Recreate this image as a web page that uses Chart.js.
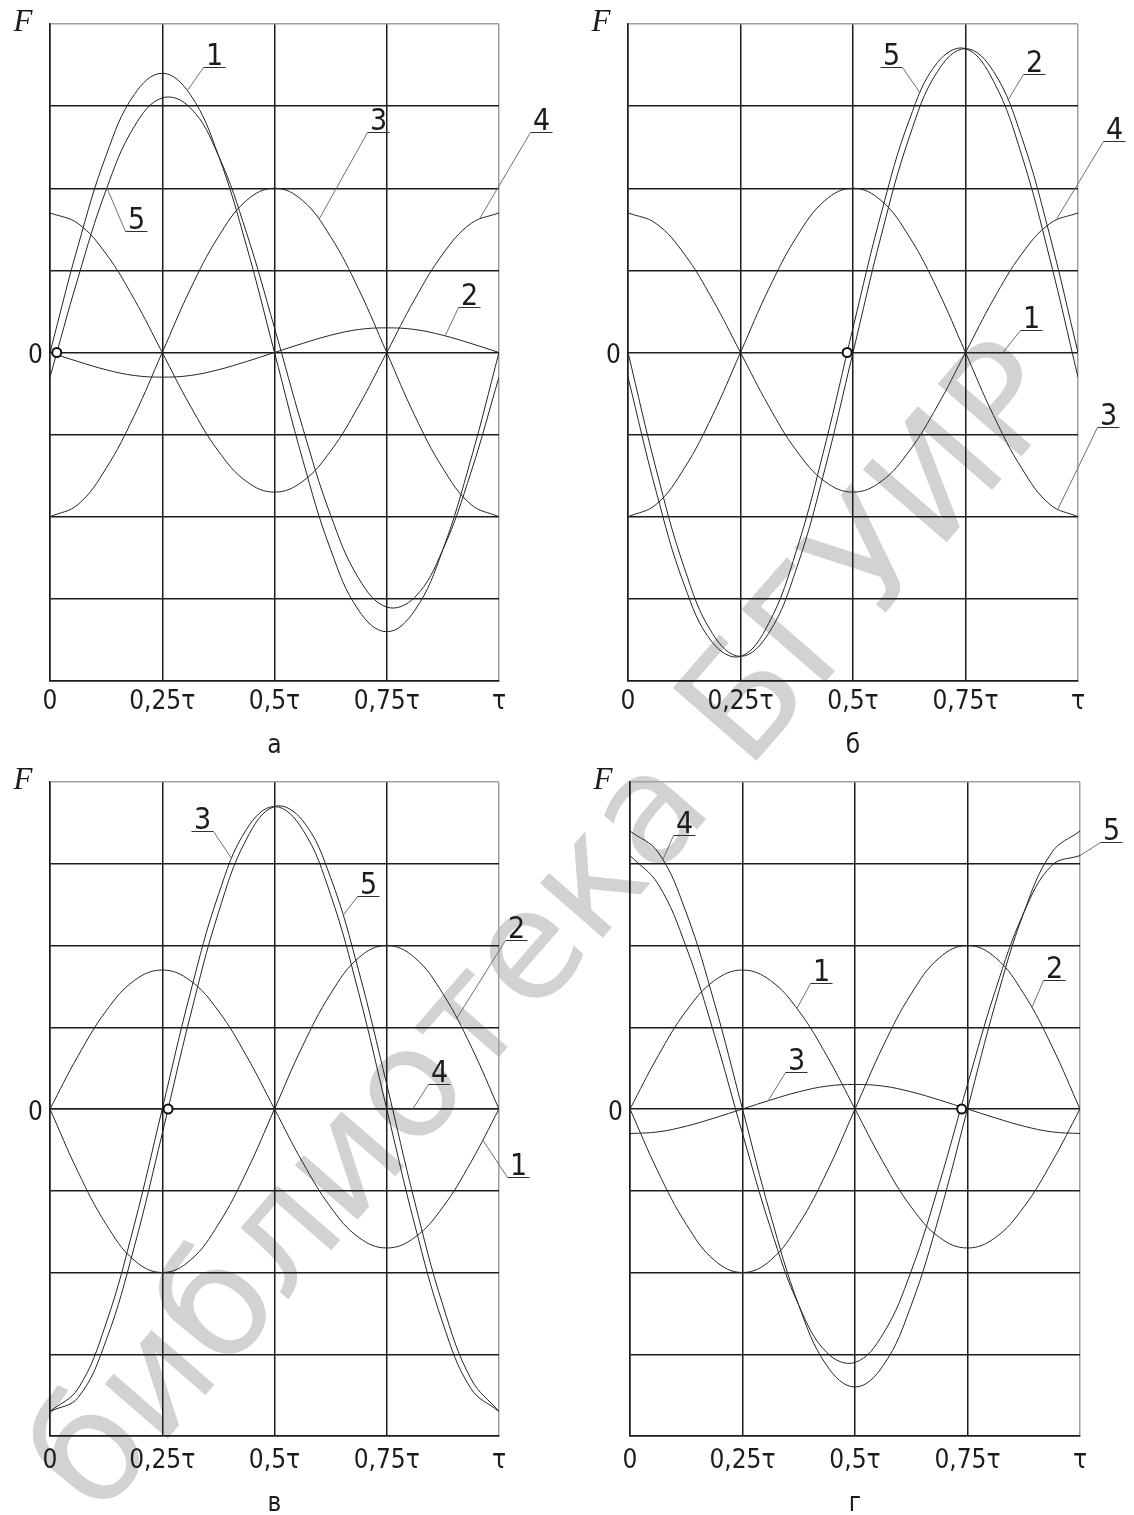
<!DOCTYPE html>
<html>
<head>
<meta charset="utf-8">
<script src="https://cdn.jsdelivr.net/npm/chart.js@4.4.1/dist/chart.umd.min.js"></script>
<style>
  html, body { margin: 0; padding: 0; background: #fff; overflow: hidden; }
  #page { position: relative; width: 1134px; height: 1515px; overflow: hidden; }
  .panel { position: absolute; }
  #stamp {
    position: absolute; left: 545px; top: 925px;
    transform: translate(-50%, -50%) rotate(-49deg);
    font: 152px "DejaVu Sans"; color: #d2d2d2;
    white-space: nowrap; line-height: 1;
  }
</style>
</head>
<body>
<div id="page">
  <div id="stamp">библиотека БГУИР</div>
  <canvas class="panel" id="pa" width="567" height="770" style="left:0;top:0"></canvas>
  <canvas class="panel" id="pb" width="567" height="770" style="left:567px;top:0"></canvas>
  <canvas class="panel" id="pv" width="567" height="770" style="left:0;top:757px"></canvas>
  <canvas class="panel" id="pg" width="567" height="770" style="left:567px;top:757px"></canvas>
</div>
<script>
// positions along the pole pitch, in fractions of tau
const tau = [0, 0.0625, 0.125, 0.1875, 0.25, 0.3125, 0.375, 0.4375, 0.5,
             0.5625, 0.625, 0.6875, 0.75, 0.8125, 0.875, 0.9375, 1];
const xTickLabels = ['0', '0,25τ', '0,5τ', '0,75τ', 'τ'];

// panel а
const a1 = [0, 1.30, 2.40, 3.14, 3.40, 3.14, 2.40, 1.30, 0, -1.30, -2.40, -3.14, -3.40, -3.14, -2.40, -1.30, 0];
const a2 = [0, -0.11, -0.21, -0.28, -0.30, -0.28, -0.21, -0.11, 0, 0.11, 0.21, 0.28, 0.30, 0.28, 0.21, 0.11, 0];
const a3 = [-2, -1.85, -1.41, -0.77, 0, 0.77, 1.41, 1.85, 2, 1.85, 1.41, 0.77, 0, -0.77, -1.41, -1.85, -2];
const a4 = [1.70, 1.57, 1.20, 0.65, 0, -0.65, -1.20, -1.57, -1.70, -1.57, -1.20, -0.65, 0, 0.65, 1.20, 1.57, 1.70];
const a5 = [-0.30, 0.91, 1.98, 2.75, 3.10, 2.98, 2.40, 1.46, 0.30, -0.91, -1.98, -2.75, -3.10, -2.98, -2.40, -1.46, -0.30];

// panel б
const b1 = [0, 0, 0, 0, 0, 0, 0, 0, 0, 0, 0, 0, 0, 0, 0, 0, 0];
const b2 = [0, -1.42, -2.62, -3.42, -3.70, -3.42, -2.62, -1.42, 0, 1.42, 2.62, 3.42, 3.70, 3.42, 2.62, 1.42, 0];
const b3 = [-2, -1.85, -1.41, -0.77, 0, 0.77, 1.41, 1.85, 2, 1.85, 1.41, 0.77, 0, -0.77, -1.41, -1.85, -2];
const b4 = [1.70, 1.57, 1.20, 0.65, 0, -0.65, -1.20, -1.57, -1.70, -1.57, -1.20, -0.65, 0, 0.65, 1.20, 1.57, 1.70];
const b5 = [-0.30, -1.69, -2.83, -3.53, -3.70, -3.30, -2.40, -1.14, 0.30, 1.69, 2.83, 3.53, 3.70, 3.30, 2.40, 1.14, -0.30];

// panel в
const v1 = [0, 0.65, 1.20, 1.57, 1.70, 1.57, 1.20, 0.65, 0, -0.65, -1.20, -1.57, -1.70, -1.57, -1.20, -0.65, 0];
const v2 = [0, -0.77, -1.41, -1.85, -2, -1.85, -1.41, -0.77, 0, 0.77, 1.41, 1.85, 2, 1.85, 1.41, 0.77, 0];
const v3 = [-3.70, -3.42, -2.62, -1.42, 0, 1.42, 2.62, 3.42, 3.70, 3.42, 2.62, 1.42, 0, -1.42, -2.62, -3.42, -3.70];
const v4 = [0, 0, 0, 0, 0, 0, 0, 0, 0, 0, 0, 0, 0, 0, 0, 0, 0];
const v5 = [-3.70, -3.53, -2.83, -1.69, -0.30, 1.14, 2.40, 3.30, 3.70, 3.53, 2.83, 1.69, 0.30, -1.14, -2.40, -3.30, -3.70];

// panel г
const g1 = [0, 0.65, 1.20, 1.57, 1.70, 1.57, 1.20, 0.65, 0, -0.65, -1.20, -1.57, -1.70, -1.57, -1.20, -0.65, 0];
const g2 = [0, -0.77, -1.41, -1.85, -2, -1.85, -1.41, -0.77, 0, 0.77, 1.41, 1.85, 2, 1.85, 1.41, 0.77, 0];
const g3 = [-0.30, -0.28, -0.21, -0.11, 0, 0.11, 0.21, 0.28, 0.30, 0.28, 0.21, 0.11, 0, -0.11, -0.21, -0.28, -0.30];
const g4 = [3.40, 3.14, 2.40, 1.30, 0, -1.30, -2.40, -3.14, -3.40, -3.14, -2.40, -1.30, 0, 1.30, 2.40, 3.14, 3.40];
const g5 = [3.10, 2.75, 1.98, 0.91, -0.30, -1.46, -2.40, -2.98, -3.10, -2.75, -1.98, -0.91, 0.30, 1.46, 2.40, 2.98, 3.10];

// where the resulting curve 5 crosses zero (marked with a small ring)
const zeroCross = [0.015, 0.487, 0.263, 0.737];

// curve numbers: tip on the curve, anchor of the underlined number
const calloutsA = [
  { n: '1', tip: [0.305, 3.18], at: [0.341, 3.48], side: 'r' },
  { n: '5', tip: [0.127, 2.00], at: [0.167, 1.48], side: 'r' },
  { n: '3', tip: [0.600, 1.63], at: [0.706, 2.68], side: 'r' },
  { n: '4', tip: [0.958, 1.64], at: [1.069, 2.68], side: 'r' },
  { n: '2', tip: [0.880, 0.20], at: [0.909, 0.55], side: 'r' }
];
const calloutsB = [
  { n: '5', tip: [0.649, 3.16], at: [0.609, 3.48], side: 'l' },
  { n: '2', tip: [0.844, 3.07], at: [0.878, 3.39], side: 'r' },
  { n: '4', tip: [0.953, 1.63], at: [1.056, 2.57], side: 'r' },
  { n: '1', tip: [0.833, 0.00], at: [0.871, 0.28], side: 'r' },
  { n: '3', tip: [0.956, -1.90], at: [1.042, -0.91], side: 'r' }
];
const calloutsV = [
  { n: '3', tip: [0.405, 3.06], at: [0.363, 3.40], side: 'l' },
  { n: '5', tip: [0.653, 2.37], at: [0.684, 2.60], side: 'r' },
  { n: '2', tip: [0.906, 1.11], at: [1.013, 2.07], side: 'r' },
  { n: '4', tip: [0.808, 0.00], at: [0.842, 0.30], side: 'r' },
  { n: '1', tip: [0.964, -0.38], at: [1.018, -0.83], side: 'r' }
];
const calloutsG = [
  { n: '4', tip: [0.073, 3.05], at: [0.096, 3.35], side: 'r' },
  { n: '1', tip: [0.371, 1.23], at: [0.400, 1.54], side: 'r' },
  { n: '3', tip: [0.307, 0.10], at: [0.344, 0.45], side: 'r' },
  { n: '2', tip: [0.893, 1.24], at: [0.918, 1.58], side: 'r' },
  { n: '5', tip: [1.000, 3.10], at: [1.044, 3.27], side: 'r' }
];

const panels = [
  { id: 'pa', caption: 'а', curves: [a1, a2, a3, a4, a5], zero: zeroCross[0], callouts: calloutsA,
    top: 24, right: 68, yWidth: 50, xHeight: 89, tickPad: 6, capPad: 11 },
  { id: 'pb', caption: 'б', curves: [b1, b2, b3, b4, b5], zero: zeroCross[1], callouts: calloutsB,
    top: 24, right: 56, yWidth: 61, xHeight: 89, tickPad: 6, capPad: 11 },
  { id: 'pv', caption: 'в', curves: [v1, v2, v3, v4, v5], zero: zeroCross[2], callouts: calloutsV,
    top: 25, right: 68, yWidth: 50, xHeight: 91, tickPad: 10, capPad: 10 },
  { id: 'pg', caption: 'г', curves: [g1, g2, g3, g4, g5], zero: zeroCross[3], callouts: calloutsG,
    top: 25, right: 54, yWidth: 63, xHeight: 91, tickPad: 10, capPad: 10 }
];

const INK = '#1c1c1c';
const FRAME = '#a0a0a0';
const SANS = '"DejaVu Sans Condensed", "Liberation Sans", sans-serif';

// axis name F and the underlined curve numbers with their leaders
function calloutPlugin(panel) {
  return {
    id: 'callouts',
    afterDatasetsDraw(chart) {
      const { ctx, chartArea, scales: { x, y } } = chart;
      ctx.save();
      ctx.fillStyle = INK;
      ctx.textAlign = 'center';
      ctx.textBaseline = 'middle';
      ctx.font = 'italic 31px "Liberation Serif"';
      ctx.fillText('F', chartArea.left - 27, chartArea.top - 1);

      ctx.font = '30px ' + SANS;
      ctx.textBaseline = 'alphabetic';
      ctx.lineWidth = 1;
      panel.callouts.forEach(c => {
        const ax = Math.round(x.getPixelForValue(c.at[0])) + 0.5;
        const ay = Math.round(y.getPixelForValue(c.at[1])) + 0.5;
        const tx = x.getPixelForValue(c.tip[0]);
        const ty = y.getPixelForValue(c.tip[1]);
        const ux = c.side === 'l' ? ax - 22 : ax + 22;
        ctx.strokeStyle = '#707070';
        ctx.beginPath(); ctx.moveTo(tx, ty); ctx.lineTo(ax, ay); ctx.stroke();
        ctx.strokeStyle = '#303030';
        ctx.beginPath(); ctx.moveTo(ax, ay); ctx.lineTo(ux, ay); ctx.stroke();
        ctx.fillText(c.n, (ax + ux) / 2, ay - 3);
      });
      ctx.restore();
    }
  };
}

panels.forEach(p => {
  const curveSets = p.curves.map(arr => ({
    data: tau.map((t, i) => ({ x: t, y: arr[i] })),
    borderColor: '#252525',
    borderWidth: 1,
    pointRadius: 0,
    tension: 0.4,
    fill: false
  }));
  const ring = {
    data: [{ x: p.zero, y: 0 }],
    showLine: false,
    pointRadius: 4.5,
    pointBackgroundColor: '#fff',
    pointBorderColor: '#111',
    pointBorderWidth: 2
  };

  new Chart(document.getElementById(p.id), {
    type: 'line',
    data: { datasets: [ring, ...curveSets] },
    options: {
      responsive: false,
      animation: false,
      events: [],
      layout: { padding: { top: p.top, right: p.right, left: 0, bottom: 0 } },
      plugins: { legend: { display: false }, tooltip: { enabled: false } },
      scales: {
        x: {
          type: 'linear', min: 0, max: 1,
          afterFit: s => { s.height = p.xHeight; },
          ticks: {
            stepSize: 0.25, autoSkip: false, maxRotation: 0, padding: p.tickPad,
            color: INK, font: { family: SANS, size: 26 },
            callback: v => xTickLabels[Math.round(v * 4)]
          },
          grid: {
            drawTicks: false, lineWidth: 1.5,
            color: c => (c.tick && c.tick.value === 1 ? FRAME : INK)
          },
          border: { color: INK, width: 1.5 },
          title: {
            display: true, text: p.caption, color: INK,
            font: { family: SANS, size: 26, lineHeight: 1 },
            padding: { top: 0, bottom: p.capPad }
          }
        },
        y: {
          type: 'linear', min: -4, max: 4,
          afterFit: s => { s.width = p.yWidth; },
          ticks: {
            stepSize: 1, autoSkip: false, padding: 7, labelOffset: 4,
            color: INK, font: { family: SANS, size: 26 },
            callback: v => (v === 0 ? '0' : '')
          },
          grid: {
            drawTicks: false, lineWidth: 1.5,
            color: c => (c.tick && c.tick.value === 4 ? FRAME : INK)
          },
          border: { color: INK, width: 1.5 }
        }
      }
    },
    plugins: [calloutPlugin(p)]
  });
});
</script>
</body>
</html>
